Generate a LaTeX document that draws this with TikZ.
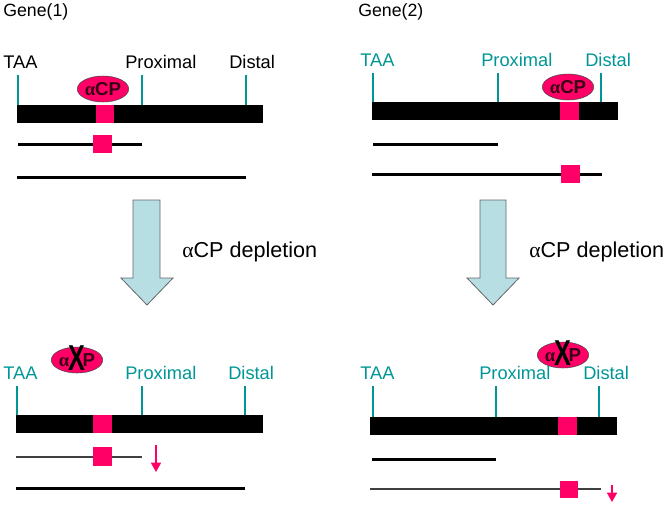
\documentclass[tikz,border=0pt]{standalone}
\usepackage{fontspec}
\setmainfont{Liberation Sans}
\newfontfamily\grk{Liberation Serif}
\usetikzlibrary{shapes.geometric, arrows.meta}

\definecolor{siteteal}{RGB}{0,150,150}
\definecolor{cppink}{RGB}{255,0,102}
\definecolor{cptext}{RGB}{55,0,20}
\definecolor{arrowfill}{RGB}{183,222,226}

\begin{document}
\begin{tikzpicture}
        [x=0.75pt, y=-0.75pt,
         every node/.style={inner sep=0, anchor=base west},
         genetitle/.style={font=\fontsize{13.3}{15}\selectfont},
         site/.style={font=\fontsize{13.7}{15}\selectfont},
         sitetick/.style={siteteal, line width=1.5pt},
         gene/.style={fill=black},
         box/.style={fill=cppink},
         mrna/.style={line width=2.25pt},
         thinmrna/.style={line width=1.1pt, black!75},
         cp/.style={draw=black!70, fill=cppink, ellipse, anchor=center, minimum width=34pt, minimum height=19.5pt, font=\bfseries\fontsize{14}{14}\selectfont, text=cptext},
         crossx/.style={anchor=center, font=\bfseries\fontsize{27}{27}\selectfont, xscale=0.7},
         bigarrow/.style={draw=black!60, fill=arrowfill, line width=0.6pt},
         depl/.style={font=\fontsize{16.2}{18}\selectfont},
         drop/.style={cppink, line width=1.1pt, -{Triangle[width=7.5pt,length=7pt]}}]

        \useasboundingbox (0,0) rectangle (666,504);

        % Gene(1), before
        \node[genetitle] (g1) at (3,16) {Gene(1)};
        \node[site] (taa1) at (3,68) {TAA};
        \node[site] (prox1) at (125,68) {Proximal};
        \node[site] (dist1) at (229,68) {Distal};
        \draw[sitetick] (18,75) -- (18,105);
        \draw[sitetick] (142,75) -- (142,105);
        \draw[sitetick] (246,75) -- (246,105);
        \fill[gene] (17,105) rectangle (263,123);
        \fill[box] (96,105) rectangle (114,123);
        \node[cp] (cp1) at (103,89) {{\grk α}CP};
        \draw[mrna] (18,144) -- (142,144);
        \fill[box] (93,135) rectangle (112,153);
        \draw[mrna] (17,177) -- (246,177);

        % Gene(2), before
        \node[genetitle] (g2) at (358,16) {Gene(2)};
        \node[site, siteteal] (taa2) at (360,66) {TAA};
        \node[site, siteteal] (prox2) at (481,66) {Proximal};
        \node[site, siteteal] (dist2) at (585,66) {Distal};
        \draw[sitetick] (373,73) -- (373,102);
        \draw[sitetick] (498,73) -- (498,102);
        \draw[sitetick] (601,73) -- (601,102);
        \fill[gene] (372,102) rectangle (618,120);
        \fill[box] (560,102) rectangle (579,120);
        \node[cp] (cp2) at (568,87) {{\grk α}CP};
        \draw[mrna] (373,144) -- (498,144);
        \draw[mrna] (372,174) -- (602,174);
        \fill[box] (561,165) rectangle (580,183);

        % depletion arrows
        \draw[bigarrow] (133,200) -- (160,200) -- (160,278) -- (173,278) -- (147,305)
                        -- (121,278) -- (133,278) -- cycle;
        \node[depl] (dep1) at (182,257) {{\grk α}CP depletion};
        \draw[bigarrow] (480,200) -- (506,200) -- (506,278) -- (519,278) -- (493,305)
                        -- (467,278) -- (480,278) -- cycle;
        \node[depl] (dep2) at (529,257) {{\grk α}CP depletion};

        % Gene(1), after
        \node[site, siteteal] (taa3) at (3,379) {TAA};
        \node[site, siteteal] (prox3) at (125,379) {Proximal};
        \node[site, siteteal] (dist3) at (228,379) {Distal};
        \draw[sitetick] (17,386) -- (17,415);
        \draw[sitetick] (142,386) -- (142,415);
        \draw[sitetick] (245,386) -- (245,415);
        \fill[gene] (16,415) rectangle (263,433);
        \fill[box] (93,415) rectangle (112,433);
        \node[cp] (cp3) at (77,360) {{\grk α}\phantom{C}P};
        \node[crossx] (x3) at ([yshift=1.5pt]cp3.center) {X};
        \draw[thinmrna] (16,457) -- (142,457);
        \fill[box] (93,447) rectangle (112,466);
        \coordinate (d3a) at (156,445);
        \coordinate (d3b) at (156,472);
        \draw[drop] (d3a) -- (d3b);
        \draw[mrna] (16,488) -- (245,488);

        % Gene(2), after
        \node[site, siteteal] (taa4) at (360,379) {TAA};
        \node[site, siteteal] (prox4) at (479,379) {Proximal};
        \node[site, siteteal] (dist4) at (583,379) {Distal};
        \draw[sitetick] (373,386) -- (373,417);
        \draw[sitetick] (496,386) -- (496,417);
        \draw[sitetick] (599,386) -- (599,417);
        \fill[gene] (370,417) rectangle (617,435);
        \fill[box] (558,417) rectangle (577,435);
        \node[cp] (cp4) at (563,355) {{\grk α}\phantom{C}P};
        \node[crossx] (x4) at ([yshift=1.5pt]cp4.center) {X};
        \draw[mrna] (372,459) -- (496,459);
        \draw[thinmrna] (370,489) -- (601,489);
        \fill[box] (560,481) rectangle (578,498);
        \coordinate (d4a) at (612,485);
        \coordinate (d4b) at (612,502);
        \draw[drop] (d4a) -- (d4b);

      \end{tikzpicture}
\end{document}
